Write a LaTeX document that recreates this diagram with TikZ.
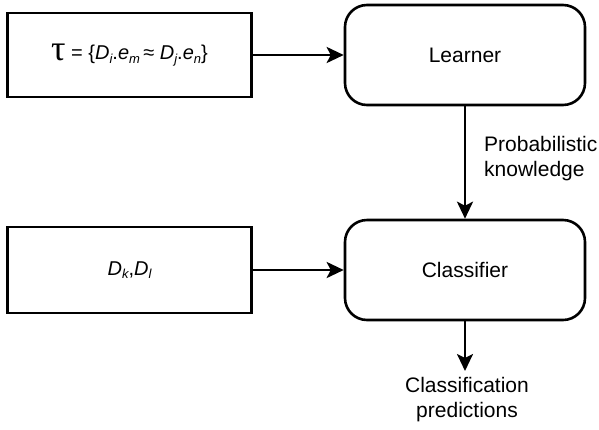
\documentclass[tikz,border=0pt]{standalone}
\usepackage{fontspec}
\setmainfont{Liberation Sans}
\newfontfamily\serifgreek{Liberation Serif}
\usetikzlibrary{arrows.meta}
\newcommand{\mysub}[1]{\raisebox{-0.35ex}{\fontsize{13}{13}\selectfont\itshape #1}}
\tikzset{
  box/.style={draw, line width=2.6pt, minimum width=244pt, minimum height=84pt, inner sep=0pt, font=\fontsize{21}{25}\selectfont},
  rbox/.style={box, rounded corners=22pt, minimum width=240pt, minimum height=100pt},
  conn/.style={line width=2.6pt, -{Stealth[length=17pt,width=16pt,inset=4pt]}},
  lbl/.style={font=\fontsize{21}{25}\selectfont, inner sep=0pt}
}
\begin{document}
\begin{tikzpicture}[x=1pt,y=-1pt]
\useasboundingbox (0,0) rectangle (599,429);
\node[box] (tau) at (129.5,55) {\raisebox{-0.1ex}{\fontsize{36}{36}\selectfont\serifgreek τ}\fontsize{20}{22}\selectfont{} = \{\textit{D}\mysub{i}.\textit{e}\mysub{m}\,≈ \textit{D}\mysub{j}.\textit{e}\mysub{n}\}};
\node[box, minimum height=86pt] (dk) at (129.5,270) {\fontsize{20}{22}\selectfont\textit{D}\mysub{k},\textit{D}\mysub{l}};
\node[rbox] (learner) at (465,55) {Learner};
\node[rbox] (classifier) at (465,270) {Classifier};
\coordinate (out) at (465,371);
\draw[conn] (tau) -- (learner);
\draw[conn] (dk) -- (classifier);
\draw[conn] (learner) -- (classifier);
\draw[conn] (classifier) -- (out);
\node[lbl, align=left, anchor=west] (prob) at (484,159) {Probabilistic\\knowledge};
\node[lbl, align=center] (pred) at (467,400) {Classification\\predictions};
\end{tikzpicture}
\end{document}
